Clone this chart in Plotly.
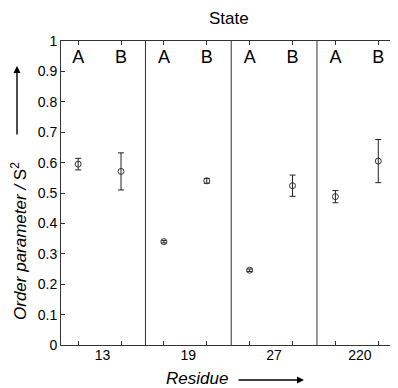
import plotly.graph_objects as go

residues = ["13", "19", "27", "220"]
states = ["A", "B"]
# order parameter S2 for state A and B of each residue
s2_A = [0.595, 0.340, 0.246, 0.488]
s2_B = [0.571, 0.540, 0.524, 0.605]
err_A = [0.019, 0.004, 0.004, 0.020]
err_B = [0.061, 0.008, 0.035, 0.071]
y_ticks = [0, 0.1, 0.2, 0.3, 0.4, 0.5, 0.6, 0.7, 0.8, 0.9, 1]
y_tick_labels = ["0", "0.1", "0.2", "0.3", "0.4", "0.5", "0.6", "0.7", "0.8", "0.9", "1"]

# x layout: each residue takes two slots (A, B)
xA = [2 * i for i in range(len(residues))]
xB = [2 * i + 1 for i in range(len(residues))]
tick_pos = sorted(xA + xB)
tick_txt = [states[p % 2] for p in tick_pos]
sep = [b + 0.57 for b in xB[:-1]]
centers = [a + 0.57 for a in xA]

FONT = "Liberation Sans, Arial, sans-serif"
LC = "#333333"
xr = [-0.4, 7.46]

# page body has an 8px margin; compensate
OFF = 8
L, T, W, H = 61, 41, 337, 304

fig = go.Figure()
fig.add_trace(go.Scatter(
    x=xA + xB, y=s2_A + s2_B, mode="markers",
    marker=dict(symbol="circle-open", size=6, color=LC, line=dict(width=1, color=LC)),
    error_y=dict(type="data", array=err_A + err_B, color="#222222", thickness=1, width=3),
    showlegend=False, xaxis="x", yaxis="y"))
fig.add_trace(go.Scatter(x=[None], y=[None], xaxis="x2", yaxis="y", showlegend=False))
fig.add_trace(go.Scatter(x=[None], y=[None], xaxis="x3", yaxis="y2", showlegend=False))
fig.add_trace(go.Scatter(x=[None], y=[None], xaxis="x4", yaxis="y", showlegend=False))

for s in sep:
    fig.add_shape(type="line", xref="x", yref="paper", x0=s, x1=s, y0=0, y1=1,
                  line=dict(color=LC, width=1))

fig.update_layout(
    width=398 - OFF, height=388 - OFF,
    margin=dict(l=L - OFF, r=0, t=T - OFF, b=388 - (T + H), autoexpand=False),
    paper_bgcolor="white", plot_bgcolor="white",
    font=dict(family=FONT, color="black", size=14),
    xaxis=dict(range=xr, tickvals=tick_pos, ticktext=[""] * len(tick_pos),
               ticks="inside", ticklen=4, tickcolor=LC, showline=True, linecolor=LC,
               linewidth=1, showgrid=False, zeroline=False),
    xaxis2=dict(range=xr, overlaying="x", side="top", tickvals=tick_pos,
                ticktext=[""] * len(tick_pos), ticks="inside", ticklen=4, tickcolor=LC,
                showline=True, linecolor=LC, linewidth=1, showgrid=False, zeroline=False),
    xaxis4=dict(range=xr, overlaying="x", side="top", anchor="free", position=0.915,
                tickvals=tick_pos, ticktext=tick_txt, ticks="", showline=False,
                tickfont=dict(size=18, color="black"), showgrid=False, zeroline=False),
    xaxis3=dict(range=xr, overlaying="x", side="bottom", tickvals=centers, ticktext=residues,
                ticks="", tickfont=dict(size=14, color="black"), showline=False,
                showgrid=False, zeroline=False),
    yaxis=dict(range=[0, 1], tickvals=y_ticks, ticktext=y_tick_labels, ticks="inside",
               ticklen=4, tickcolor=LC, showline=True, linecolor=LC, linewidth=1,
               showgrid=False, zeroline=False, tickfont=dict(size=14, color="black")),
    yaxis2=dict(range=[0, 1], tickvals=y_ticks, overlaying="y", side="right", ticks="inside",
                ticklen=3, tickcolor=LC, showticklabels=False, showline=False,
                showgrid=False, zeroline=False),
)

def px(xp): return (xp - L) / W
def py(yp): return (T + H - yp) / H

fig.add_annotation(text="State", xref="paper", yref="paper", x=px(229), y=py(18),
                   showarrow=False, font=dict(size=17), xanchor="center", yanchor="middle")
fig.add_annotation(text="<i>Order parameter /</i> S<sup>2</sup>", xref="paper", yref="paper",
                   x=px(19), y=py(241), textangle=-90, showarrow=False,
                   font=dict(size=17), xanchor="center", yanchor="middle")
fig.add_annotation(text="", xref="paper", yref="paper", x=px(17), y=py(66),
                   ax=0, ay=70, showarrow=True, arrowhead=2, arrowsize=1, arrowwidth=1.4,
                   arrowcolor="black")
fig.add_annotation(text="<i>Residue</i>", xref="paper", yref="paper", x=px(197), y=py(378),
                   showarrow=False, font=dict(size=17), xanchor="center", yanchor="middle")
fig.add_annotation(text="", xref="paper", yref="paper", x=px(304), y=py(380),
                   ax=-67, ay=0, showarrow=True, arrowhead=2, arrowsize=1, arrowwidth=1.4,
                   arrowcolor="black")

fig.write_html("out.html")
